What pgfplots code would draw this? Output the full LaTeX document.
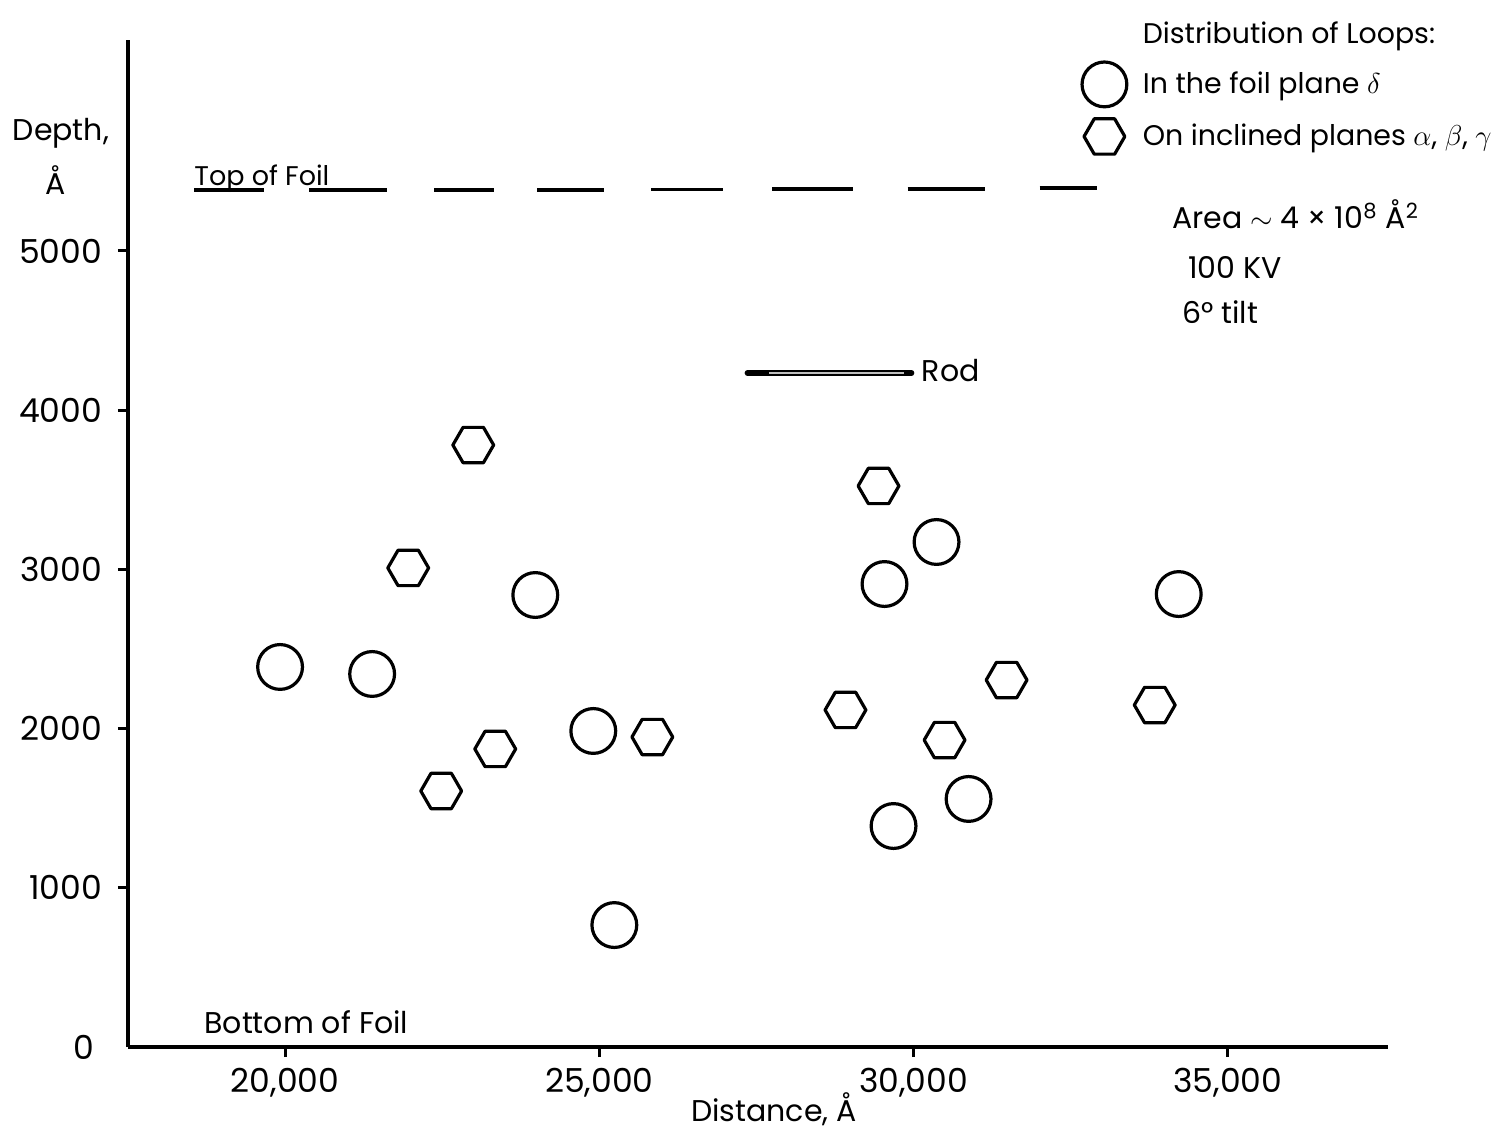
\documentclass[border=0pt]{standalone}
\usepackage{fontspec}
\setmainfont{Poppins}
\usepackage{pgfplots}
\pgfplotsset{compat=1.18}
\pgfdeclareplotmark{hexagon}{%
 \pgfpathmoveto{\pgfpointpolar{0}{\pgfplotmarksize}}%
 \pgfpathlineto{\pgfpointpolar{60}{\pgfplotmarksize}}%
 \pgfpathlineto{\pgfpointpolar{120}{\pgfplotmarksize}}%
 \pgfpathlineto{\pgfpointpolar{180}{\pgfplotmarksize}}%
 \pgfpathlineto{\pgfpointpolar{240}{\pgfplotmarksize}}%
 \pgfpathlineto{\pgfpointpolar{300}{\pgfplotmarksize}}%
 \pgfpathclose
 \pgfusepathqstroke}
\pgfplotstableread{
x y
19920 2387
21385 2343
23981 2839
24904 1985
25239 766
29538 2908
30366 3172
29682 1388
30876 1558
34220 2845
}\circles
\pgfplotstableread{
x y
22994 3781
21959 3009
23344 1872
22484 1608
25844 1947
29443 3524
28917 2117
30494 1928
31481 2305
33838 2148
}\hexes
\begin{document}
\begin{tikzpicture}
\path[use as bounding box] (-64pt,-42.5pt) rectangle (688pt,523.5pt);
\begin{axis}[
  at={(0,0)}, anchor=south west,
  scale only axis, width=630pt, height=503.5pt,
  xmin=17500, xmax=37550, ymin=0, ymax=6325,
  axis x line=bottom, axis y line=left,
  axis line style={line width=2pt,-},
  clip=false,
  tick align=outside,
  major tick length=5pt,
  every tick/.style={black, line width=1.5pt},
  scaled x ticks=false, scaled y ticks=false,
  xtick={20000,25000,30000,35000},
  xticklabels={{20,000},{25,000},{30,000},{35,000}},
  ytick={1000,2000,3000,4000,5000},
  yticklabels={1000,2000,3000,4000,5000},
  extra y ticks={0}, extra y tick labels={0},
  extra y tick style={major tick length=0pt, yticklabel style={xshift=-9pt}},
  /pgf/number format/assume math mode=true,
  tick label style={font=\fontsize{16.5}{18}\selectfont},
  xticklabel style={yshift=-2pt},
  yticklabel style={xshift=-4.5pt},
  legend style={at={(axis cs:32675,6470)}, anchor=north west, draw=none, fill=none,
    font=\fontsize{14.2}{17}\selectfont, row sep=6pt, column sep=6pt, inner sep=0pt},
  legend cell align=left,
]
\addlegendimage{empty legend}
\addlegendentry{Distribution of Loops:}
\addplot[only marks, mark=o, mark size=11.2pt, line width=1.6pt, black] table[x=x,y=y] {\circles};
\addlegendentry{In the foil plane $\delta$}
\addplot[only marks, mark=hexagon, mark size=10.2pt, line width=1.6pt, line join=round, black] table[x=x,y=y] {\hexes};
\addlegendentry{On inclined planes $\alpha$, $\beta$, $\gamma$}
% top of foil dashes
\addplot[forget plot, black, line width=1.8pt, unbounded coords=jump] coordinates {
 (18551,5383) (19666,5383) (19666,nan)
 (20382,5383) (21624,5383) (21624,nan)
 (22373,5383) (23328,5383) (23328,nan)
 (24013,5383) (25080,5383) (25080,nan)
 (25828,5385) (26975,5385) (26975,nan)
 (27755,5388) (29029,5388) (29029,nan)
 (29904,5390) (31131,5390) (31131,nan)
 (32006,5395) (32914,5395)
};
% rod
\addplot[forget plot, black, line width=2.8pt, line cap=round] coordinates {(27357,4234) (29968,4234)};
\addplot[forget plot, gray!50, line width=0.6pt] coordinates {(27700,4234) (29850,4234)};
\node[anchor=west, inner sep=0pt, font=\fontsize{15}{18}\selectfont] at (axis cs:30127,4252) {Rod};
\node[anchor=base west, inner sep=0pt, font=\fontsize{13.5}{16}\selectfont] at (axis cs:18551,5410) {Top of Foil};
\node[anchor=west, inner sep=0pt, font=\fontsize{15}{18}\selectfont] at (axis cs:18710,157) {Bottom of Foil};
\node[font=\fontsize{15}{18}\selectfont] at (axis cs:16433,5741) {Depth,};
\node[font=\fontsize{15}{18}\selectfont] at (axis cs:16354,5446) {Å};
\node[font=\fontsize{15}{18}\selectfont] at (axis cs:27780,-390) {Distance, Å};
\node[anchor=base west, inner sep=0pt, font=\fontsize{15}{18}\selectfont] at (axis cs:34108,5138) {Area $\sim$ 4 × 10\textsuperscript{8} Å\textsuperscript{2}};
\node[anchor=west, inner sep=0pt, font=\fontsize{15}{18}\selectfont] at (axis cs:34363,4899) {100 KV};
\node[anchor=west, inner sep=0pt, font=\fontsize{15}{18}\selectfont] at (axis cs:34268,4617) {6° tilt};
\end{axis}
\end{tikzpicture}
\end{document}
